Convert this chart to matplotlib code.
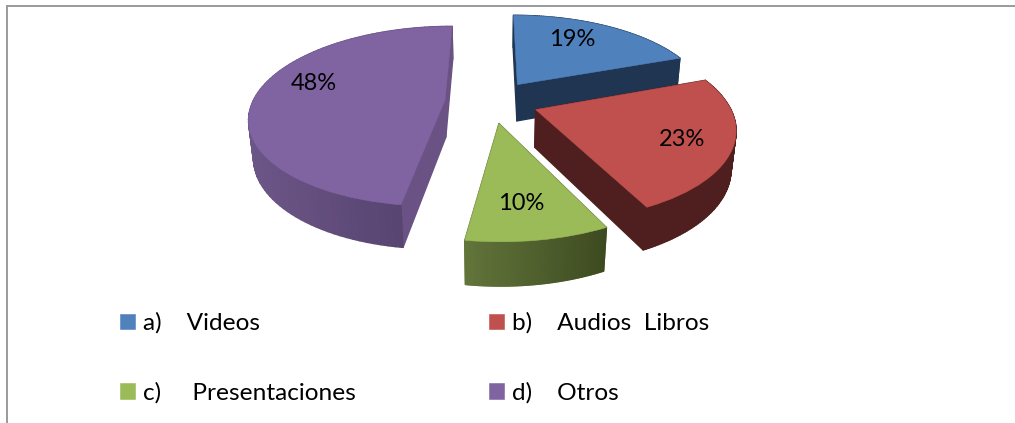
import numpy as np
import matplotlib
matplotlib.use("Agg")
import matplotlib.pyplot as plt
from matplotlib.collections import PolyCollection
from matplotlib.transforms import Transform
from matplotlib.lines import Line2D
from matplotlib.colors import to_rgb

categories = ["a)    Videos", "b)    Audios  Libros", "c)     Presentaciones", "d)    Otros"]
values = [19.4, 23.4, 9.52, 47.68]
explode = [0.244, 0.244, 0.244, 0.244]
top_colors = ["#4f81bd", "#c0504d", "#9bbb59", "#8064a2"]
# side shading per slice: arc colour at left, arc colour at right, radial face colour
arc_left = ["#1f3552", "#4f1f1f", "#62753a", "#6c5688"]
arc_right = ["#1f3552", "#4f1f1f", "#3d4a20", "#503e68"]
radial = ["#1f3552", "#4f1f1f", "#5d7036", "#6a5284"]
label_xy = [(572, 40), (682, 140), (521, 204), (314, 84)]

W, H = 1015, 423
X0, Y0, A, B, K, DEPTH, ZK = 491.5, 101.5, 192.0, 87.5, 0.182, 38.0, 0.02


def project(x, y, z=0.0):
    x, y = np.asarray(x, float), np.asarray(y, float)
    w = 1 + K * y + ZK * z
    return X0 + A * x / w, Y0 + (DEPTH * z - B * y) / w


class Persp(Transform):
    input_dims = output_dims = 2
    is_separable = False
    has_inverse = False

    def transform_non_affine(self, values):
        v = np.asarray(values, float)
        px, py = project(v[:, 0], v[:, 1])
        return np.column_stack([px, py])


fig = plt.figure(figsize=(W / 100, H / 100), dpi=100)
ax = fig.add_axes([0, 0, 1, 1])
plt.rcParams["font.family"] = ["Lato", "DejaVu Sans"]

wedges, texts, autotexts = ax.pie(
    values, explode=explode, colors=top_colors, startangle=90, counterclock=False,
    autopct="%.0f%%", labels=None, textprops=dict(fontsize=17, color="black", family="Lato"),
    wedgeprops=dict(linewidth=0),
)
ax.set_aspect("auto")
ax.set_xlim(0, W)
ax.set_ylim(H, 0)
ax.axis("off")

persp = Persp() + ax.transData


def lerp(c1, c2, t):
    a, b = np.array(to_rgb(c1)), np.array(to_rgb(c2))
    return tuple(a + (b - a) * t)


# draw order: back slices first
for i in [0, 3, 1, 2]:
    wd = wedges[i]
    cx, cy = wd.center
    r = wd.r
    th = np.radians(np.linspace(wd.theta1, wd.theta2, 90))
    ax_x, ax_y = cx + r * np.cos(th), cy + r * np.sin(th)
    polys, cols, depth = [], [], []
    px0, py0 = project(ax_x, ax_y, 0.0)
    px1, py1 = project(ax_x, ax_y, 1.0)
    xmin, xmax = px0.min(), px0.max()
    for j in range(len(th) - 1):
        polys.append([(px0[j], py0[j]), (px0[j + 1], py0[j + 1]), (px1[j + 1], py1[j + 1]), (px1[j], py1[j])])
        cols.append(lerp(arc_left[i], arc_right[i], (px0[j] - xmin) / max(xmax - xmin, 1)))
        depth.append(ax_y[j])
    for k in (0, -1):
        c0x, c0y = project(cx, cy, 0.0)
        c1x, c1y = project(cx, cy, 1.0)
        polys.append([(c0x, c0y), (px0[k], py0[k]), (px1[k], py1[k]), (c1x, c1y)])
        cols.append(radial[i])
        depth.append((cy + ax_y[k]) / 2)
    order = np.argsort(depth)[::-1]
    pc = PolyCollection([polys[o] for o in order], facecolors=[cols[o] for o in order],
                        edgecolors=[cols[o] for o in order], linewidths=1.0)
    order_z = {0: 2, 3: 4, 1: 6, 2: 8}[i]
    pc.set_zorder(order_z)
    ax.add_collection(pc)
    wd.set_transform(persp)
    wd.set_zorder(order_z + 1)
    wd.set_clip_on(False)
    wd.set_edgecolor(top_colors[i])
    wd.set_linewidth(0.4)

for at, xy in zip(autotexts, label_xy):
    at.set_position(xy)
    at.set_zorder(20)
    at.set_ha("center")
    at.set_va("center")

# legend fills column by column; the reference reads row by row
leg_order = [0, 2, 1, 3]
leg = ax.legend(
    [wedges[i] for i in leg_order], [categories[i] for i in leg_order], ncol=2, frameon=False,
    prop=dict(family="Lato", size=17.6),
    loc="upper left", bbox_to_anchor=(120 / W, 1 - 312.5 / H), borderaxespad=0, borderpad=0,
    handlelength=0.61, handleheight=0.61, handletextpad=0.34, columnspacing=5.44, labelspacing=1.98,
)

# outer frame
gray = "#9a9a9a"
fig.add_artist(Line2D([6.5 / W, 1], [1 - 6 / H, 1 - 6 / H], color=gray, lw=1.4))
fig.add_artist(Line2D([7 / W, 7 / W], [0, 1 - 6 / H], color=gray, lw=1.4))

fig.savefig("out.png", dpi=100, facecolor="white")
